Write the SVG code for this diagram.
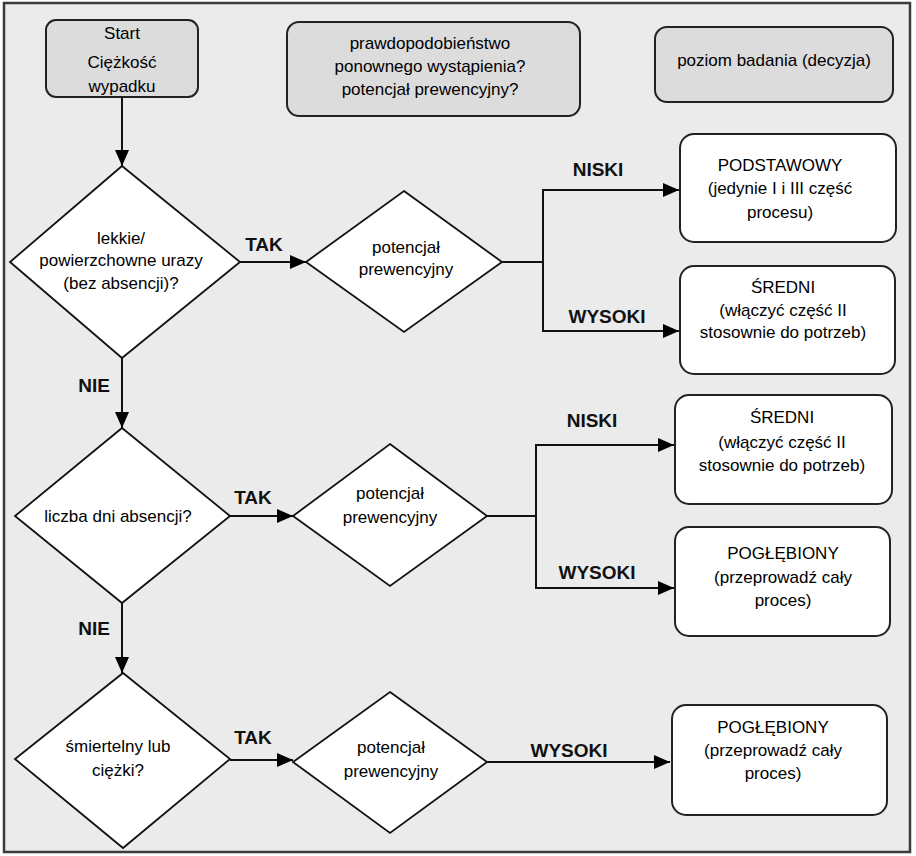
<svg xmlns="http://www.w3.org/2000/svg" width="916" height="856" viewBox="0 0 916 856">
  <style>
    .frame { fill: #ebebeb; stroke: #3a3a3a; stroke-width: 2.5; }
    .gbox { fill: #dcdcdc; stroke: #222; stroke-width: 2; }
    .wbox { fill: #ffffff; stroke: #222; stroke-width: 2; }
    .dia { fill: #ffffff; stroke: #111; stroke-width: 1.8; }
    .t { font-family: "Liberation Sans", Arial, sans-serif; font-size: 17px; fill: #000; text-anchor: middle; }
    .lbl { font-family: "Liberation Sans", Arial, sans-serif; font-size: 19px; font-weight: bold; fill: #111; text-anchor: middle; }
    .con { fill: none; stroke: #111; stroke-width: 2; }
  </style>
  <defs>
    <marker id="arr" viewBox="0 0 16 14" refX="16" refY="7" markerWidth="16" markerHeight="14" markerUnits="userSpaceOnUse" orient="auto">
      <path d="M0,0 L16,7 L0,14 Z" fill="#000"/>
    </marker>
  </defs>

  <rect class="frame" x="4" y="3" width="906" height="849"/>

  <g id="start">
    <rect class="gbox" x="46" y="20" width="152" height="77" rx="10"/>
    <text class="t" x="122" y="39">Start</text>
    <text class="t" x="122" y="68">Ciężkość</text>
    <text class="t" x="122" y="92">wypadku</text>
  </g>

  <g id="header-prob">
    <rect class="gbox" x="287" y="22" width="293" height="94" rx="12"/>
    <text class="t" x="430" y="49">prawdopodobieństwo</text>
    <text class="t" x="430" y="72">ponownego wystąpienia?</text>
    <text class="t" x="430" y="95">potencjał prewencyjny?</text>
  </g>

  <g id="header-level">
    <rect class="gbox" x="655" y="27" width="238" height="75" rx="12"/>
    <text class="t" x="774" y="66">poziom badania (decyzja)</text>
  </g>

  <g id="d1">
    <polygon class="dia" points="122,166 240,262 122,358 10,262"/>
    <text class="t" x="121" y="244">lekkie/</text>
    <text class="t" x="121" y="266">powierzchowne urazy</text>
    <text class="t" x="121" y="289">(bez absencji)?</text>
  </g>

  <g id="d2">
    <polygon class="dia" points="404,191 502,262 404,332 306,262"/>
    <text class="t" x="406" y="253">potencjał</text>
    <text class="t" x="406" y="275">prewencyjny</text>
  </g>

  <g id="r1">
    <rect class="wbox" x="680" y="134" width="216" height="108" rx="14"/>
    <text class="t" x="780" y="171">PODSTAWOWY</text>
    <text class="t" x="780" y="194">(jedynie I i III część</text>
    <text class="t" x="780" y="218">procesu)</text>
  </g>

  <g id="r2">
    <rect class="wbox" x="680" y="266" width="215" height="108" rx="14"/>
    <text class="t" x="783" y="293">ŚREDNI</text>
    <text class="t" x="783" y="316">(włączyć część II</text>
    <text class="t" x="783" y="338">stosownie do potrzeb)</text>
  </g>

  <g id="d3">
    <polygon class="dia" points="122,428 230,516 122,603 15,516"/>
    <text class="t" x="118" y="522">liczba dni absencji?</text>
  </g>

  <g id="d4">
    <polygon class="dia" points="390,444 487,516 390,586 293,516"/>
    <text class="t" x="390" y="499">potencjał</text>
    <text class="t" x="390" y="523">prewencyjny</text>
  </g>

  <g id="r3">
    <rect class="wbox" x="675" y="395" width="217" height="109" rx="14"/>
    <text class="t" x="782" y="423">ŚREDNI</text>
    <text class="t" x="782" y="448">(włączyć część II</text>
    <text class="t" x="782" y="471">stosownie do potrzeb)</text>
  </g>

  <g id="r4">
    <rect class="wbox" x="675" y="527" width="215" height="109" rx="14"/>
    <text class="t" x="783" y="559">POGŁĘBIONY</text>
    <text class="t" x="783" y="583">(przeprowadź cały</text>
    <text class="t" x="783" y="606">proces)</text>
  </g>

  <g id="d5">
    <polygon class="dia" points="123,673 230,759 123,848 15,759"/>
    <text class="t" x="118" y="752">śmiertelny lub</text>
    <text class="t" x="118" y="776">ciężki?</text>
  </g>

  <g id="d6">
    <polygon class="dia" points="390,692 487,762 390,833 293,762"/>
    <text class="t" x="391" y="753">potencjał</text>
    <text class="t" x="391" y="777">prewencyjny</text>
  </g>

  <g id="r5">
    <rect class="wbox" x="672" y="705" width="215" height="110" rx="14"/>
    <text class="t" x="773" y="733">POGŁĘBIONY</text>
    <text class="t" x="773" y="756">(przeprowadź cały</text>
    <text class="t" x="773" y="779">proces)</text>
  </g>

  <g id="connectors">
    <path class="con" d="M122,97 V166" marker-end="url(#arr)"/>
    <path class="con" d="M240,262 H306" marker-end="url(#arr)"/>
    <path class="con" d="M502,262 H543"/>
    <path class="con" d="M543,262 V190 H679" marker-end="url(#arr)"/>
    <path class="con" d="M543,262 V331 H679" marker-end="url(#arr)"/>
    <path class="con" d="M122,358 V428" marker-end="url(#arr)"/>
    <path class="con" d="M230,516 H293" marker-end="url(#arr)"/>
    <path class="con" d="M487,516 H536"/>
    <path class="con" d="M536,516 V445 H674" marker-end="url(#arr)"/>
    <path class="con" d="M536,516 V588 H674" marker-end="url(#arr)"/>
    <path class="con" d="M122,603 V673" marker-end="url(#arr)"/>
    <path class="con" d="M230,760 H293" marker-end="url(#arr)"/>
    <path class="con" d="M487,762 H670" marker-end="url(#arr)"/>

    <text class="lbl" x="264" y="251">TAK</text>
    <text class="lbl" x="94" y="392">NIE</text>
    <text class="lbl" x="598" y="176">NISKI</text>
    <text class="lbl" x="607" y="323">WYSOKI</text>
    <text class="lbl" x="253" y="504">TAK</text>
    <text class="lbl" x="94" y="635">NIE</text>
    <text class="lbl" x="592" y="427">NISKI</text>
    <text class="lbl" x="597" y="579">WYSOKI</text>
    <text class="lbl" x="253" y="744">TAK</text>
    <text class="lbl" x="569" y="757">WYSOKI</text>
  </g>
</svg>
